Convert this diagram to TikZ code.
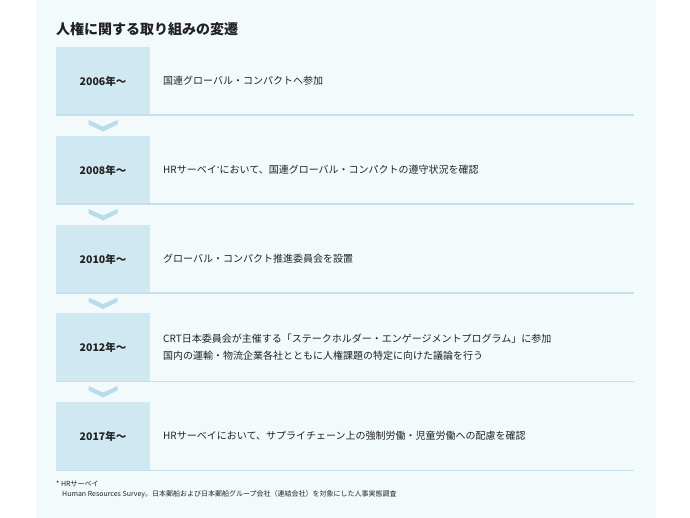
\documentclass[tikz,border=0pt]{standalone}
\usepackage{fontspec}
\setmainfont{Noto Sans CJK JP}
\usetikzlibrary{calc}
\definecolor{panelbg}{HTML}{F3FAFC}
\definecolor{yearfill}{HTML}{D0E8F2}
\definecolor{rowline}{HTML}{C4E0EC}
\definecolor{chev}{HTML}{B8DCEC}
\definecolor{txt}{HTML}{222222}
\tikzset{
  yearbox/.style={fill=yearfill, minimum width=94pt, minimum height=68pt, inner sep=0pt, text=txt, font=\fontsize{10.5}{12}\selectfont\bfseries},
  desc/.style={anchor=west, inner sep=0pt, text=txt, font=\fontsize{10}{17}\selectfont, align=left},
  rowsep/.style={draw=rowline, line width=1.4pt},
  chevron/.style={fill=chev, draw=none},
  note/.style={anchor=west, inner sep=0pt, text=txt, font=\fontsize{7}{8}\selectfont}
}
\newcommand{\chevronat}[1]{%
  \fill[chevron] ($(#1)+(-14.5,-5.5)$) -- ($(#1)+(0,1)$) -- ($(#1)+(14.5,-5.5)$) -- ($(#1)+(14.5,-1)$) -- ($(#1)+(0,6)$) -- ($(#1)+(-14.5,-1)$) -- cycle;}
\begin{document}
\begin{tikzpicture}[x=1pt,y=-1pt]
\useasboundingbox (0,0) rectangle (690,518);
\fill[white] (0,0) rectangle (690,518);
\fill[panelbg] (36,0) rectangle (656,518);
\node[anchor=west, inner sep=0pt, text=txt, font=\fontsize{14}{16}\selectfont\bfseries] (title) at (56,29) {人権に関する取り組みの変遷};
% rows
\node[yearbox] (y1) at (103,81) {2006年〜};
\node[yearbox] (y2) at (103,170) {2008年〜};
\node[yearbox] (y3) at (103,259) {2010年〜};
\node[yearbox] (y4) at (103,347) {2012年〜};
\node[yearbox] (y5) at (103,436) {2017年〜};
\node[desc] (d1) at (163,81) {国連グローバル・コンパクトへ参加};
\node[desc] (d2) at (163,170) {HRサーベイ{\fontsize{6}{6}\selectfont\raisebox{0.35em}{*}}において、国連グローバル・コンパクトの遵守状況を確認};
\node[desc] (d3) at (163,259) {グローバル・コンパクト推進委員会を設置};
\node[desc] (d4) at (163,347) {CRT日本委員会が主催する「ステークホルダー・エンゲージメントプログラム」に参加\\国内の運輸・物流企業各社とともに人権課題の特定に向けた議論を行う};
\node[desc] (d5) at (163,436) {HRサーベイにおいて、サプライチェーン上の強制労働・児童労働への配慮を確認};
% separators
\foreach \i in {1,...,5}{
  \coordinate (e\i) at ($(y\i.south west)+(578,0)$);
  \draw[rowsep] (y\i.south west) -- (e\i);
}
% chevrons between rows
\foreach \a/\b in {1/2,2/3,3/4,4/5}{
  \coordinate (c\a) at ($(y\a.south)!0.5!(y\b.north)$);
  \chevronat{c\a}
}
% footnote
\node[note] (n1) at (56,484) {* HRサーベイ};
\node[note] (n2) at (62,494) {Human Resources Survey。日本郵船および日本郵船グループ会社（連結会社）を対象にした人事実態調査};
\end{tikzpicture}
\end{document}
